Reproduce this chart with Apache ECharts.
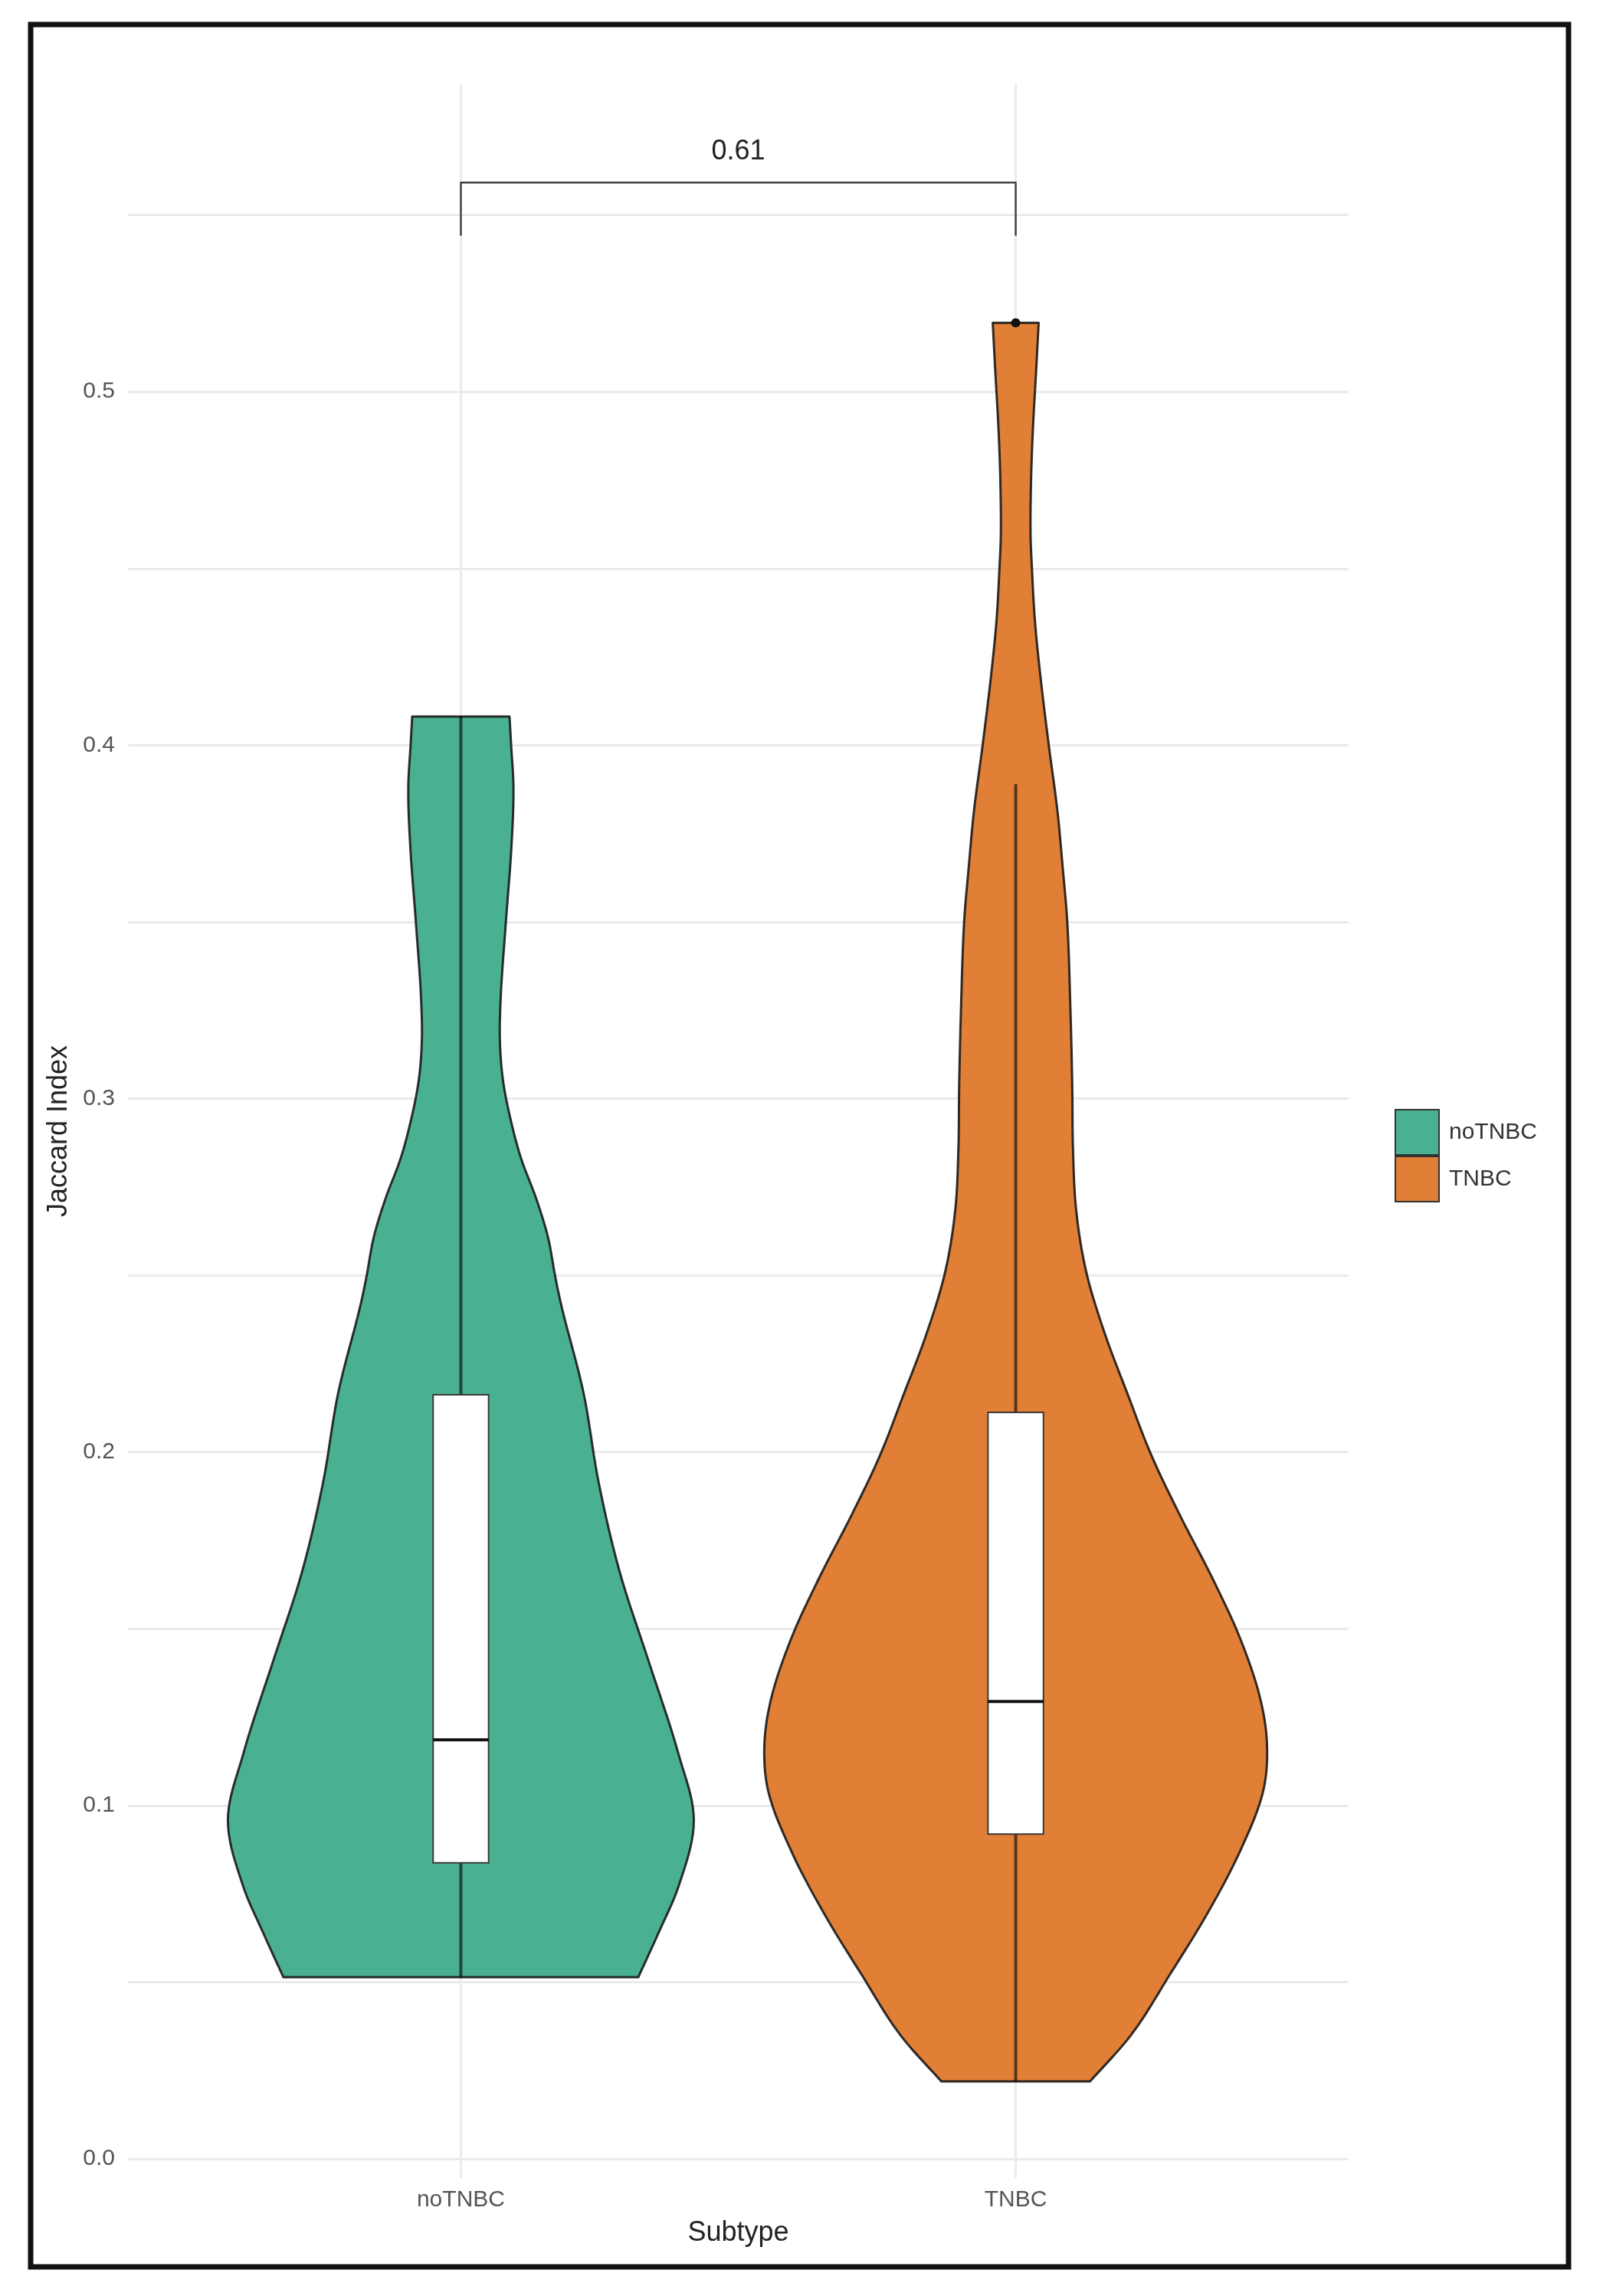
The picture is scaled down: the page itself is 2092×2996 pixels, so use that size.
<!DOCTYPE html>
<html>
<head>
<meta charset="utf-8">
<script src="https://cdn.jsdelivr.net/npm/echarts@6/dist/echarts.min.js"></script>
<style>
  html, body { margin: 0; padding: 0; background: #ffffff; }
  #chart { width: 2092px; height: 2996px; }
</style>
</head>
<body>
<div id="chart"></div>
<script>
// ---------------- data ----------------
const categories = ['noTNBC', 'TNBC'];
const yTickLabels = [0, 0.1, 0.2, 0.3, 0.4, 0.5];
const yGridValues = [0, 0.05, 0.1, 0.15, 0.2, 0.25, 0.3, 0.35, 0.4, 0.45, 0.5, 0.55];

// violin outlines (bottom -> top): Jaccard value and half width (x-axis units)
const noTNBC_y = [0.0514, 0.0640, 0.0768, 0.0958, 0.1149, 0.1405, 0.1659, 0.1912, 0.2168, 0.2422, 0.2498, 0.2608, 0.2719, 0.2830, 0.2940, 0.3051, 0.3161, 0.3272, 0.3493, 0.3714, 0.3880, 0.4003, 0.4081];
const noTNBC_w = [0.3198, 0.3564, 0.3916, 0.4199, 0.3916, 0.3391, 0.2866, 0.2486, 0.2210, 0.1800, 0.1699, 0.1570, 0.1354, 0.1087, 0.0898, 0.0760, 0.0704, 0.0714, 0.0808, 0.0912, 0.0948, 0.0905, 0.0877];

const TNBC_y = [0.0219, 0.0349, 0.0521, 0.0694, 0.0867, 0.1041, 0.1170, 0.1299, 0.1472, 0.1646, 0.1818, 0.1991, 0.2164, 0.2337, 0.2510, 0.2683, 0.2856, 0.3038, 0.3271, 0.3504, 0.3658, 0.3813, 0.3998, 0.4200, 0.4355, 0.4510, 0.4588, 0.4742, 0.4897, 0.5052, 0.5195];
const TNBC_w = [0.1340, 0.2072, 0.2776, 0.3453, 0.4033, 0.4461, 0.4530, 0.4413, 0.4047, 0.3536, 0.2970, 0.2445, 0.2017, 0.1602, 0.1271, 0.1091, 0.1033, 0.1019, 0.0983, 0.0928, 0.0845, 0.0753, 0.0598, 0.0442, 0.0345, 0.0290, 0.0269, 0.0276, 0.0311, 0.0366, 0.0414];

// boxplot statistics: [lower whisker, Q1, median, Q3, upper whisker]
const noTNBC_box = [0.0514, 0.0838, 0.1186, 0.2162, 0.4081];
const TNBC_box = [0.0219, 0.0919, 0.1294, 0.2112, 0.3890];
const noTNBC_outliers = [];
const TNBC_outliers = [0.5195];

// significance annotation
const pValueText = '0.61';
const bracketLow = 0.5442;
const bracketHigh = 0.5592;
const pLabelY = 0.5680;

// ---------------- chart ----------------
const profiles = [
  { y: noTNBC_y, w: noTNBC_w },
  { y: TNBC_y, w: TNBC_w }
];
const boxes = [noTNBC_box, TNBC_box];
const outliers = [noTNBC_outliers, TNBC_outliers];
const fills = ['#49B192', '#E07F35'];
const boxHalf = 0.05;
const FONT = 'Liberation Sans, Arial, Helvetica, sans-serif';

// smooth outline for drawing only (cubic Hermite through the read points)
function smoothOutline(ys, ws, steps) {
  const n = ys.length;
  const d = [];
  for (let i = 0; i < n - 1; i++) d.push((ws[i + 1] - ws[i]) / (ys[i + 1] - ys[i]));
  const m = [];
  for (let i = 0; i < n; i++) {
    if (i === 0) m.push(d[0]);
    else if (i === n - 1) m.push(d[n - 2]);
    else m.push((d[i - 1] + d[i]) / 2);
  }
  const out = [[ys[0], ws[0]]];
  for (let i = 0; i < n - 1; i++) {
    const h = ys[i + 1] - ys[i];
    for (let s = 1; s <= steps; s++) {
      const t = s / steps, t2 = t * t, t3 = t2 * t;
      const w = (2 * t3 - 3 * t2 + 1) * ws[i] + (t3 - 2 * t2 + t) * h * m[i]
              + (-2 * t3 + 3 * t2) * ws[i + 1] + (t3 - t2) * h * m[i + 1];
      out.push([ys[i] + t * h, w]);
    }
  }
  return out;
}

function violinItem(params, api) {
  const cx = api.value(0);
  const p = profiles[cx - 1];
  const prof = smoothOutline(p.y, p.w, 10);
  const pts = [];
  for (let i = 0; i < prof.length; i++) pts.push(api.coord([cx - prof[i][1], prof[i][0]]));
  for (let i = prof.length - 1; i >= 0; i--) pts.push(api.coord([cx + prof[i][1], prof[i][0]]));
  return {
    type: 'polygon',
    shape: { points: pts },
    style: { fill: fills[cx - 1], stroke: 'rgba(25,25,25,0.9)', lineWidth: 3, lineJoin: 'round' }
  };
}

function boxItem(params, api) {
  const cx = api.value(0);
  const b = boxes[cx - 1];
  const lw = api.coord([cx, b[0]]);
  const uw = api.coord([cx, b[4]]);
  const q1L = api.coord([cx - boxHalf, b[1]]);
  const q3R = api.coord([cx + boxHalf, b[3]]);
  const medL = api.coord([cx - boxHalf, b[2]]);
  const medR = api.coord([cx + boxHalf, b[2]]);
  const children = [
    { type: 'line', shape: { x1: lw[0], y1: lw[1], x2: uw[0], y2: uw[1] },
      style: { stroke: 'rgba(0,0,0,0.6)', lineWidth: 4 } },
    { type: 'rect', shape: { x: q1L[0], y: q3R[1], width: q3R[0] - q1L[0], height: q1L[1] - q3R[1] },
      style: { fill: '#ffffff', stroke: '#3a3a3a', lineWidth: 2 } },
    { type: 'line', shape: { x1: medL[0], y1: medL[1], x2: medR[0], y2: medR[1] },
      style: { stroke: '#111111', lineWidth: 4 } }
  ];
  outliers[cx - 1].forEach(v => {
    const c = api.coord([cx, v]);
    children.push({ type: 'circle', shape: { cx: c[0], cy: c[1], r: 6 }, style: { fill: '#111111' } });
  });
  return { type: 'group', children: children };
}

function bracketItem(params, api) {
  const l0 = api.coord([1, bracketLow]);
  const l1 = api.coord([1, bracketHigh]);
  const r1 = api.coord([2, bracketHigh]);
  const r0 = api.coord([2, bracketLow]);
  const t = api.coord([1.5, pLabelY]);
  return {
    type: 'group',
    children: [
      { type: 'polyline', shape: { points: [l0, l1, r1, r0] },
        style: { stroke: '#444444', lineWidth: 2.5, fill: null } },
      { type: 'text', x: t[0], y: t[1],
        style: { text: pValueText, fill: '#222222', font: '36px ' + FONT, align: 'center', verticalAlign: 'middle' } }
    ]
  };
}

const chart = echarts.init(document.getElementById('chart'), null, { renderer: 'canvas' });
chart.setOption({
  animation: false,
  backgroundColor: '#ffffff',
  grid: { left: 167, right: 332, top: 110, bottom: 154, containLabel: false },
  xAxis: {
    type: 'value',
    min: 0.4, max: 2.6,
    axisLine: { show: false },
    axisTick: { show: false, customValues: [1, 2] },
    axisLabel: {
      customValues: [1, 2],
      formatter: v => categories[Math.round(v) - 1],
      color: '#555555', fontSize: 30, fontFamily: FONT, margin: 14
    },
    splitLine: { show: true, lineStyle: { color: '#ebebeb', width: 3 } },
    name: 'Subtype', nameLocation: 'middle', nameGap: 54,
    nameTextStyle: { color: '#222222', fontSize: 36, fontFamily: FONT }
  },
  yAxis: {
    type: 'value',
    min: -0.0054, max: 0.587,
    axisLine: { show: false },
    axisTick: { show: false, customValues: yGridValues },
    axisLabel: {
      customValues: yTickLabels,
      formatter: v => v.toFixed(1),
      color: '#555555', fontSize: 30, fontFamily: FONT, margin: 17
    },
    splitLine: { show: true, lineStyle: { color: '#ebebeb', width: 3 } },
    name: 'Jaccard Index', nameLocation: 'middle', nameGap: 72, nameRotate: 90,
    nameTextStyle: { color: '#222222', fontSize: 36, fontFamily: FONT }
  },
  legend: {
    data: categories,
    orient: 'vertical',
    left: 1815, top: 1442,
    itemWidth: 57, itemHeight: 59, itemGap: 0,
    icon: 'rect',
    selectedMode: false,
    itemStyle: { borderColor: '#333333', borderWidth: 2 },
    textStyle: { color: '#333333', fontSize: 30, fontFamily: FONT, padding: [0, 0, 0, 8] }
  },
  series: [
    { name: 'noTNBC', type: 'custom', renderItem: violinItem, data: [[1]],
      itemStyle: { color: fills[0] }, z: 2 },
    { name: 'TNBC', type: 'custom', renderItem: violinItem, data: [[2]],
      itemStyle: { color: fills[1] }, z: 2 },
    { name: 'box', type: 'custom', renderItem: boxItem, data: [[1], [2]], z: 3 },
    { name: 'bracket', type: 'custom', renderItem: bracketItem, data: [[1.5]], z: 3, clip: false }
  ],
  graphic: [
    { type: 'rect', shape: { x: 40, y: 32, width: 2007, height: 2926 },
      style: { fill: null, stroke: '#111111', lineWidth: 7 }, z: 100 }
  ]
});
</script>
</body>
</html>
